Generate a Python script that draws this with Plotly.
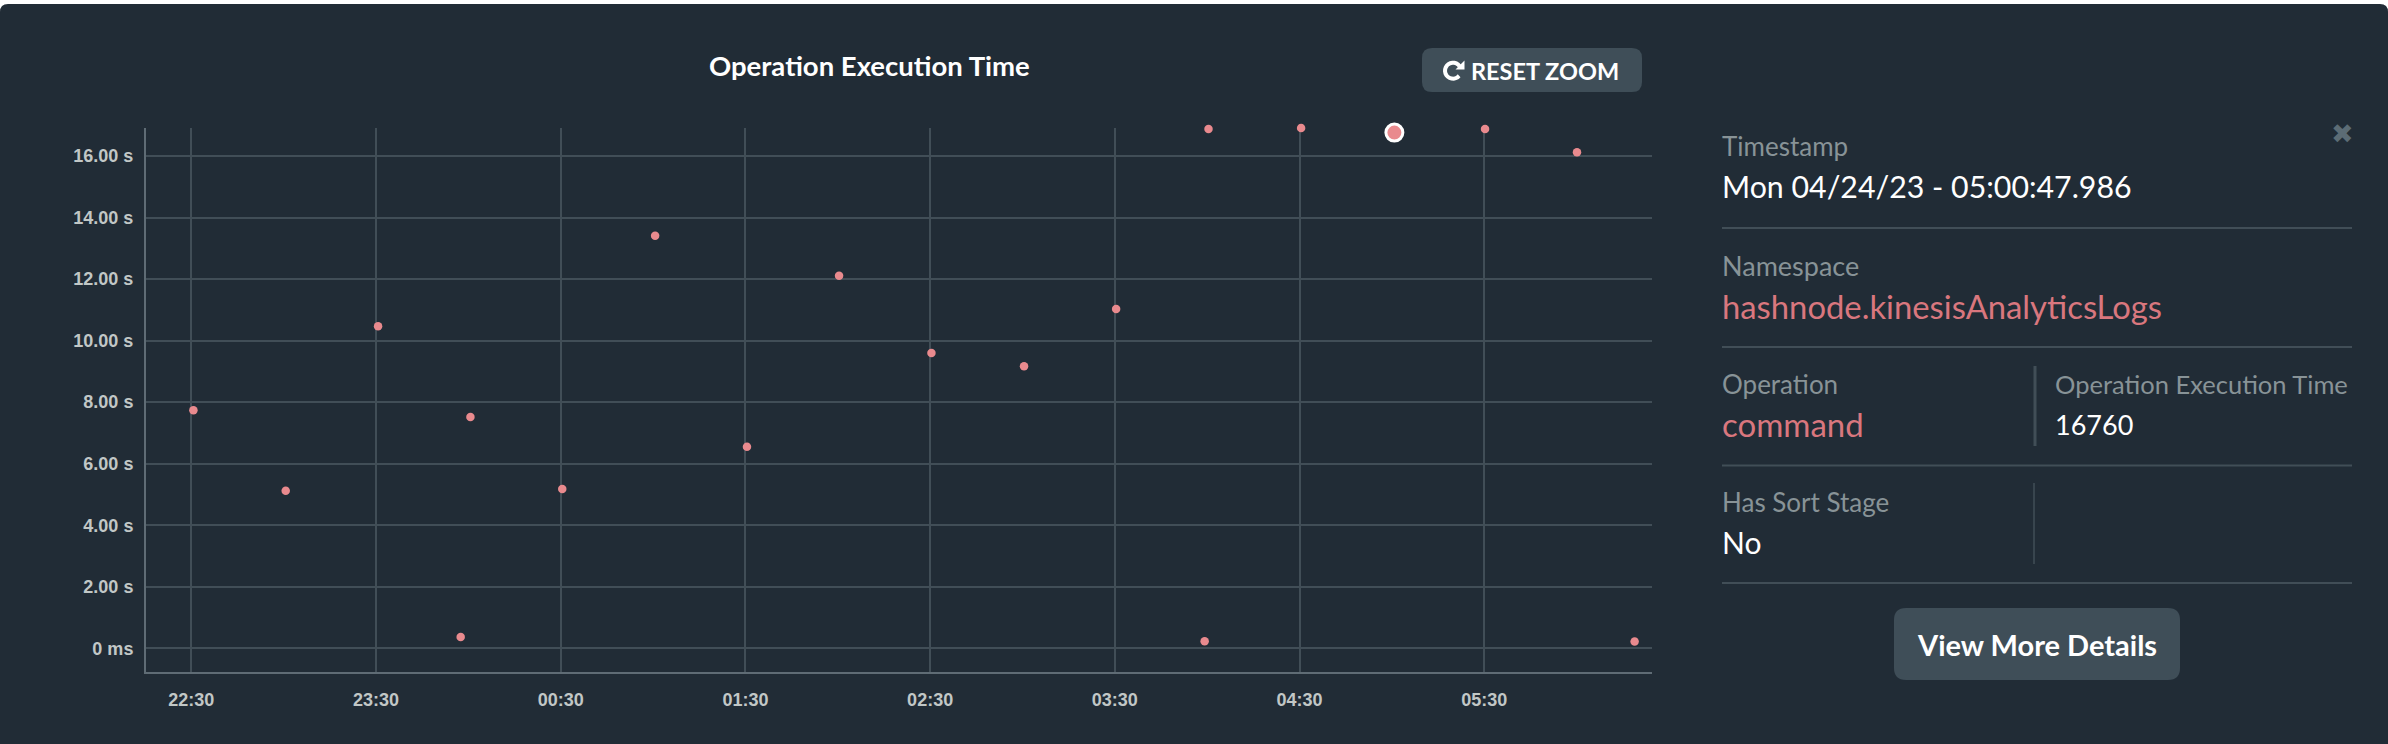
import math
import plotly.graph_objects as go

times = ["2023-04-23 22:30:41","2023-04-23 23:00:40","2023-04-23 23:30:40","2023-04-23 23:57:30",
         "2023-04-24 00:00:40","2023-04-24 00:30:30","2023-04-24 01:00:40","2023-04-24 01:30:30",
         "2023-04-24 02:00:25","2023-04-24 02:30:25","2023-04-24 03:00:30","2023-04-24 03:30:25",
         "2023-04-24 03:59:10","2023-04-24 04:00:25","2023-04-24 04:30:30","2023-04-24 05:30:15",
         "2023-04-24 06:00:07","2023-04-24 06:18:50"]
values = [7.74,5.12,10.47,0.37,7.52,5.18,13.41,6.55,12.11,9.60,9.17,11.03,0.23,16.88,16.91,16.88,16.12,0.22]
selected_time = ["2023-04-24 05:00:47.986"]
selected_value = [16.76]
x_tick_vals = ["2023-04-23 22:30","2023-04-23 23:30","2023-04-24 00:30","2023-04-24 01:30",
               "2023-04-24 02:30","2023-04-24 03:30","2023-04-24 04:30","2023-04-24 05:30"]
x_tick_text = ["22:30","23:30","00:30","01:30","02:30","03:30","04:30","05:30"]
y_tick_vals = [0,2,4,6,8,10,12,14,16]
y_tick_text = ["0 ms","2.00 s","4.00 s","6.00 s","8.00 s","10.00 s","12.00 s","14.00 s","16.00 s"]
x_range = ["2023-04-23 22:15:17","2023-04-24 06:24:29"]
y_range = [-0.77,16.91]

W,H = 2388,744
L,R,T,B = 146,1652,128,672
BG="#212c36"; GRID="#414e57"; AXIS="#5f6c75"; PINK="#e98a8e"; LABEL="#889397"; TEXTPINK="#d9777e"
FONT="Lato"

def px(x): return (x-L)/(R-L)
def py(y): return (B-y)/(B-T)

def rrect(x0,y0,x1,y1,r,bottom=True):
    X0,X1,Y0,Y1=px(x0),px(x1),py(y0),py(y1)
    rx,ry=r/(R-L),r/(B-T)
    p=f"M {X0+rx} {Y0} L {X1-rx} {Y0} Q {X1} {Y0} {X1} {Y0-ry} "
    if bottom:
        p+=f"L {X1} {Y1+ry} Q {X1} {Y1} {X1-rx} {Y1} L {X0+rx} {Y1} Q {X0} {Y1} {X0} {Y1+ry} "
    else:
        p+=f"L {X1} {Y1} L {X0} {Y1} "
    p+=f"L {X0} {Y0-ry} Q {X0} {Y0} {X0+rx} {Y0} Z"
    return p

shapes=[dict(type="path",path=rrect(0,4,W,H,8,bottom=False),xref="paper",yref="paper",fillcolor=BG,line_width=0,layer="below"),
        dict(type="path",path=rrect(1422,48,1642,92,10),xref="paper",yref="paper",fillcolor="#3f4e58",line_width=0,layer="below"),
        dict(type="path",path=rrect(1894,608,2180,680,12),xref="paper",yref="paper",fillcolor="#3f4e58",line_width=0,layer="below")]
def line(x0,y0,x1,y1,w,c=GRID):
    shapes.append(dict(type="line",xref="paper",yref="paper",x0=px(x0),x1=px(x1),y0=py(y0),y1=py(y1),line=dict(color=c,width=w),layer="below"))
for yy in (228,347,465.5,583):
    line(1722,yy,2352,yy,2)
line(2035,366,2035,446,3)
line(2034,483,2034,564,1.5)

# reset-zoom icon: open ring plus arrowhead
cx,cy,rad=1453,70.7,8
pts=[(cx+rad*math.cos(math.radians(a)),cy+rad*math.sin(math.radians(a))) for a in range(40,326,15)]
shapes.append(dict(type="path",xref="paper",yref="paper",layer="above",line=dict(color="#ffffff",width=4),
    path="M "+" L ".join(f"{px(a)} {py(b)}" for a,b in pts)))
shapes.append(dict(type="path",xref="paper",yref="paper",layer="above",fillcolor="#ffffff",line_width=0,
    path=f"M {px(1464.5)} {py(60.5)} L {px(1464.5)} {py(69.5)} L {px(1455.5)} {py(69.5)} Z"))

annots=[]
def text(x,y,s,size,color,anchor="left",weight="normal",family=FONT):
    annots.append(dict(x=px(x),y=py(y),xref="paper",yref="paper",text=s,showarrow=False,xanchor=anchor,yanchor="middle",
                       xshift=0,borderpad=0,font=dict(size=size,color=color,family=family,weight=weight)))
text(869,66,"Operation Execution Time",27.5,"#ffffff","center","bold")
text(1545,71,"RESET ZOOM",23.5,"#ffffff","center","bold")
text(2342,134,"✖",27,"#5c6c75","center","normal","DejaVu Sans")
text(1721,146,"Timestamp",26,LABEL)
text(1721,186,"Mon 04/24/23 - 05:00:47.986",30.3,"#ffffff")
text(1721,265,"Namespace",27,LABEL)
text(1721,306,"hashnode.kinesisAnalyticsLogs",32.8,TEXTPINK)
text(1721,384,"Operation",26,LABEL)
text(1721,424,"command",33,TEXTPINK)
text(2054,384,"Operation Execution Time",25.5,LABEL)
text(2054,424,"16760",27,"#ffffff")
text(1721,502,"Has Sort Stage",26,LABEL)
text(1721,542,"No",30,"#ffffff")
text(2037,644,"View More Details",29,"#ffffff","center","bold")

fig=go.Figure()
fig.add_trace(go.Scatter(x=times,y=values,mode="markers",cliponaxis=False,marker=dict(color=PINK,size=8.5,line_width=0),showlegend=False))
fig.add_trace(go.Scatter(x=selected_time,y=selected_value,mode="markers",cliponaxis=False,marker=dict(color=PINK,size=17,line=dict(color="#ffffff",width=3)),showlegend=False))
tf=dict(family="Liberation Sans",size=18,color="#c1c7c6",weight="bold")
fig.update_layout(width=W,height=H,margin=dict(l=L,r=W-R,t=T,b=H-B,pad=0),paper_bgcolor="#ffffff",plot_bgcolor="rgba(0,0,0,0)",
    autosize=False,shapes=shapes,annotations=annots,
    xaxis=dict(type="date",range=x_range,tickmode="array",tickvals=x_tick_vals,ticktext=x_tick_text,tickfont=tf,
               showgrid=True,gridcolor=GRID,gridwidth=1.5,showline=True,linecolor=AXIS,linewidth=2,ticks="",ticklabelstandoff=10,zeroline=False),
    yaxis=dict(range=y_range,tickmode="array",tickvals=y_tick_vals,ticktext=y_tick_text,tickfont=tf,
               showgrid=True,gridcolor=GRID,gridwidth=2,showline=True,linecolor=AXIS,linewidth=2,ticks="",ticklabelstandoff=7,zeroline=False))
fig.write_html("out.html",config=dict(displayModeBar=False),post_script="document.body.style.margin='0';document.body.style.overflow='hidden';")
